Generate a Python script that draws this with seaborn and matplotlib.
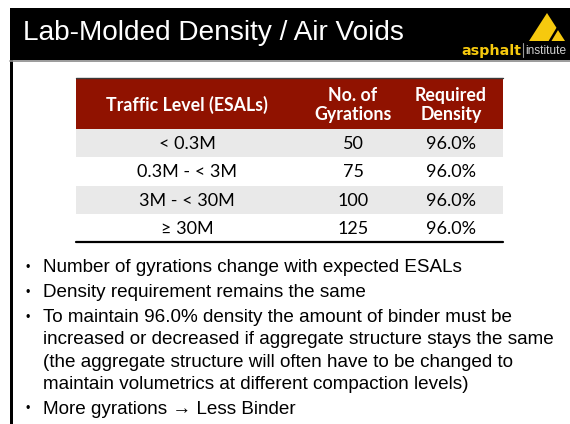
import matplotlib.pyplot as plt
import matplotlib.patches as mpatches
import seaborn as sns
import pandas as pd

# slide content
title = "Lab-Molded Density / Air Voids"
col_headers = ["Traffic Level (ESALs)", "No. of\nGyrations", "Required\nDensity"]
traffic = ["< 0.3M", "0.3M - < 3M", "3M - < 30M", "\u2265 30M"]
gyrations = [50, 75, 100, 125]
density = [96.0, 96.0, 96.0, 96.0]
bullets = [
    "Number of gyrations change with expected ESALs",
    "Density requirement remains the same",
    "To maintain 96.0% density the amount of binder must be\n"
    "increased or decreased if aggregate structure stays the same\n"
    "(the aggregate structure will often have to be changed to\n"
    "maintain volumetrics at different compaction levels)",
    "More gyrations \u2192 Less Binder",
]

table = pd.DataFrame({"traffic": traffic, "gyr": gyrations, "dens": density})

sns.set_theme(style="white")
plt.rcParams['font.family'] = ['Liberation Sans', 'DejaVu Sans']

fig = plt.figure(figsize=(5.7, 4.24), dpi=100)
ax = fig.add_axes([0, 0, 1, 1])
ax.set_xlim(0, 570)
ax.set_ylim(424, 0)
ax.axis('off')

# header bar + frame
ax.add_patch(mpatches.Rectangle((10, 8), 560, 52, color='black', lw=0))
ax.plot([10, 570], [60.5, 60.5], color='#8a8a8a', lw=1.2)
ax.add_patch(mpatches.Rectangle((10, 60), 3, 364, color='black', lw=0))
ax.text(23, 33, title, color='white', fontsize=20.2, va='center', ha='left')

# logo
yellow = '#f6c90e'
ax.add_patch(mpatches.Polygon([(547, 13), (529, 41), (565, 41)], closed=True,
                              color=yellow, lw=0))
ax.plot([550, 557.5], [41, 28.5], color='black', lw=1.8)
ax.text(521, 50.5, "asphalt", color=yellow, fontsize=10.3, fontweight='bold',
        family=['DejaVu Sans'], ha='right', va='center')
ax.plot([523, 523], [43, 57], color='#9a9a9a', lw=0.8)
ax.text(525, 50.5, "institute", color='#d0d0d0', fontsize=8.6,
        ha='left', va='center')

# table
left, right = 76, 503
head_top, head_bot = 78, 129
row_h = 28.25
col_x = [187, 353, 451]
red = '#901200'
ax.add_patch(mpatches.Rectangle((left, head_top), right - left, head_bot - head_top,
                                color=red, lw=0))
ax.plot([left, right], [head_top, head_top], color='#3a3a3a', lw=1)
for x, h in zip(col_x, col_headers):
    ax.text(x, 105, h, color='white', fontsize=12.8, fontweight='bold',
            family=['Lato', 'DejaVu Sans'], ha='center', va='center',
            linespacing=1.2)

for i, row in table.iterrows():
    y0 = head_bot + i * row_h
    if i % 2 == 0:
        ax.add_patch(mpatches.Rectangle((left, y0), right - left, row_h,
                                        color='#e9e9e9', lw=0))
    yc = y0 + row_h / 2 + 1
    vals = [row['traffic'], f"{row['gyr']}", f"{row['dens']:.1f}%"]
    for x, v in zip(col_x, vals):
        ax.text(x, yc, v, color='black', fontsize=13,
                family=['Lato', 'DejaVu Sans'], ha='center', va='center')
ax.plot([left, right], [head_bot + 4 * row_h, head_bot + 4 * row_h],
        color='black', lw=1.6)

# bullet list
line_h = 22.3
y = 268
for b in bullets:
    lines = b.split("\n")
    ax.text(26, y, "\u2022", color='black', fontsize=9, ha='left', va='center')
    for ln in lines:
        ax.text(43, y, ln, color='black', fontsize=13.6, ha='left', va='center')
        y += line_h
    y += 2.5

fig.savefig("out.png", dpi=100)
